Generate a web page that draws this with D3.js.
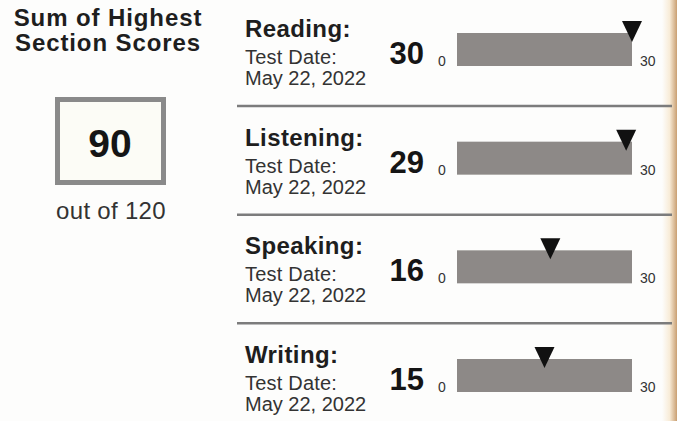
<!DOCTYPE html>
<html>
<head>
<meta charset="utf-8">
<script src="https://cdn.jsdelivr.net/npm/d3@7"></script>
<style>
  html, body { margin: 0; padding: 0; background: #fdfdfc; }
  svg { display: block; font-family: "Liberation Sans", Arial, Helvetica, sans-serif; }
</style>
</head>
<body>
<svg id="chart" width="677" height="421"></svg>
<script>
// data
const sections = ["Reading:", "Listening:", "Speaking:", "Writing:"];
const scores = [30, 29, 16, 15];
const testDates = ["May 22, 2022", "May 22, 2022", "May 22, 2022", "May 22, 2022"];
const scaleTicks = [0, 30];
const totalTitle = ["Sum of Highest", "Section Scores"];
const totalScore = 90;
const totalMax = 120;

const width = 677;
const height = 421;

const svg = d3.select("#chart");

// soft tan edge on the right side of the page
const defs = svg.append("defs");
const grad = defs.append("linearGradient")
  .attr("id", "edge")
  .attr("x1", "0%").attr("x2", "100%")
  .attr("y1", "0%").attr("y2", "0%");
grad.append("stop").attr("offset", "0%").attr("stop-color", "#fdfdfc");
grad.append("stop").attr("offset", "50%").attr("stop-color", "#f8ecd8");
grad.append("stop").attr("offset", "100%").attr("stop-color", "#c99f72");

svg.append("rect")
  .attr("x", 662).attr("y", 0)
  .attr("width", width - 662).attr("height", height)
  .attr("fill", "url(#edge)");

// left panel: total score
const left = svg.append("g");

left.selectAll("text.title")
  .data(totalTitle)
  .enter()
  .append("text")
  .attr("class", "title")
  .attr("x", 108)
  .attr("y", (d, i) => 26 + i * 25)
  .attr("text-anchor", "middle")
  .attr("font-size", 24)
  .attr("font-weight", "bold")
  .attr("letter-spacing", 0.9)
  .attr("fill", "#1e1e1e")
  .text(d => d);

left.append("rect")
  .attr("x", 57.5).attr("y", 99.5)
  .attr("width", 106).attr("height", 83)
  .attr("fill", "#fcfcf6")
  .attr("stroke", "#8a8a8a")
  .attr("stroke-width", 5);

left.append("text")
  .attr("x", 110).attr("y", 157)
  .attr("text-anchor", "middle")
  .attr("font-size", 39)
  .attr("font-weight", "bold")
  .attr("fill", "#151515")
  .text(totalScore);

left.append("text")
  .attr("x", 111).attr("y", 219)
  .attr("text-anchor", "middle")
  .attr("font-size", 24)
  .attr("letter-spacing", 0.3)
  .attr("fill", "#333")
  .text("out of " + totalMax);

// right panel: one row per section
const x = d3.scaleLinear().domain([0, 30]).range([457, 632]);
const rowY = d3.scaleLinear().domain([0, sections.length - 1]).range([0, 326]);

const rows = svg.selectAll("g.row")
  .data(sections)
  .enter()
  .append("g")
  .attr("class", "row")
  .attr("transform", (d, i) => "translate(0," + rowY(i) + ")");

rows.append("text")
  .attr("x", 245).attr("y", 37)
  .attr("font-size", 24)
  .attr("font-weight", "bold")
  .attr("letter-spacing", 0.4)
  .attr("fill", "#1e1e1e")
  .text(d => d);

rows.append("text")
  .attr("x", 245).attr("y", 64)
  .attr("font-size", 20)
  .attr("letter-spacing", 0.2)
  .attr("fill", "#333")
  .text("Test Date:");

rows.append("text")
  .attr("x", 245).attr("y", 85)
  .attr("font-size", 20)
  .attr("fill", "#333")
  .text((d, i) => testDates[i]);

rows.append("text")
  .attr("x", 424).attr("y", 64)
  .attr("text-anchor", "end")
  .attr("font-size", 31)
  .attr("font-weight", "bold")
  .attr("fill", "#151515")
  .text((d, i) => scores[i]);

rows.append("rect")
  .attr("x", x(scaleTicks[0]))
  .attr("y", 33)
  .attr("width", x(scaleTicks[1]) - x(scaleTicks[0]))
  .attr("height", 33)
  .attr("fill", "#8d8987");

rows.append("text")
  .attr("x", x(scaleTicks[0]) - 15).attr("y", 66)
  .attr("text-anchor", "middle")
  .attr("font-size", 14)
  .attr("fill", "#333")
  .text(scaleTicks[0]);

rows.append("text")
  .attr("x", x(scaleTicks[1]) + 8).attr("y", 66)
  .attr("font-size", 14)
  .attr("fill", "#333")
  .text(scaleTicks[1]);

// score marker
rows.append("path")
  .attr("d", (d, i) => {
    const cx = x(scores[i]);
    return "M" + (cx - 10) + ",21L" + (cx + 10) + ",21L" + cx + ",42Z";
  })
  .attr("fill", "#111");

// separators between rows
rows.filter((d, i) => i < sections.length - 1)
  .append("line")
  .attr("x1", 237).attr("x2", 672)
  .attr("y1", 106).attr("y2", 106)
  .attr("stroke", "#7c7c7c")
  .attr("stroke-width", 2.5);
</script>
</body>
</html>
